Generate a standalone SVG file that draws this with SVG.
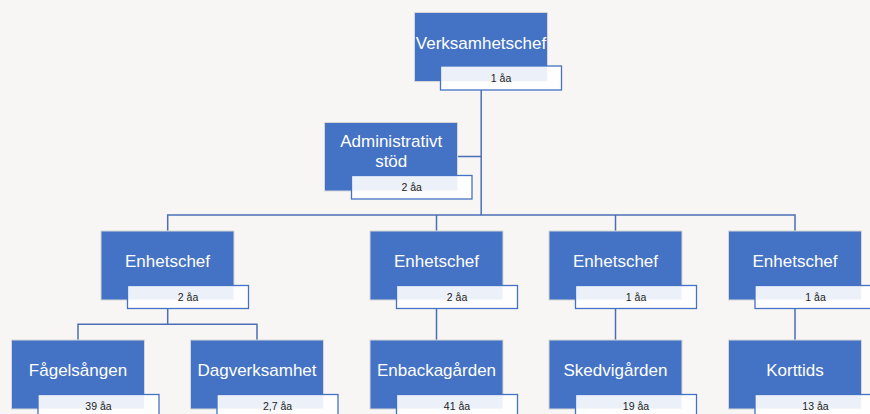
<svg xmlns="http://www.w3.org/2000/svg" width="870" height="414" viewBox="0 0 870 414">
<style>
.box{fill:#4472C4;stroke:#D6D6D6;stroke-width:1}
.lbl{fill:#FFFFFF;fill-opacity:0.9;stroke:#4472C4;stroke-width:1.3}
.t{font-family:"Liberation Sans",Arial,sans-serif;font-size:17px;fill:#FFFFFF;text-anchor:middle}
.s{font-family:"Liberation Sans",Arial,sans-serif;font-size:10.5px;fill:#222222;text-anchor:middle}
.c{fill:none;stroke:#4A6FB5;stroke-width:1.5}
</style>
<rect width="870" height="414" fill="#F7F6F4"/>
<g id="connectors">
<path class="c" d="M481.2 90 V215"/>
<path class="c" d="M458 156.5 H481.2"/>
<path class="c" d="M167.7 231 V215 H795 V231"/>
<path class="c" d="M436.5 215 V231"/>
<path class="c" d="M615.5 215 V231"/>
<path class="c" d="M167.7 308 V324.3"/>
<path class="c" d="M78 340 V324.3 H257 V340"/>
<path class="c" d="M436.5 308 V340"/>
<path class="c" d="M615.5 308 V340"/>
<path class="c" d="M795 308 V340"/>
</g>
<g id="verksamhetschef">
<rect class="box" x="414.5" y="12.5" width="133" height="69"/>
<text class="t" x="481" y="48.5">Verksamhetschef</text>
<rect class="lbl" x="440.5" y="66" width="121" height="24"/>
<text class="s" x="501" y="81.5">1 åa</text>
</g>
<g id="administrativt-stod">
<rect class="box" x="324.5" y="122.5" width="133" height="68.5"/>
<text class="t" x="391.2" y="147.3">Administrativt</text>
<text class="t" x="391.2" y="166.7">stöd</text>
<rect class="lbl" x="351.5" y="175.5" width="120.5" height="23.5"/>
<text class="s" x="411.7" y="191">2 åa</text>
</g>
<g id="enhetschef-1">
<rect class="box" x="101" y="231" width="133" height="69"/>
<text class="t" x="167.5" y="267">Enhetschef</text>
<rect class="lbl" x="127.5" y="285.5" width="121" height="23"/>
<text class="s" x="188" y="300.5">2 åa</text>
</g>
<g id="enhetschef-2">
<rect class="box" x="370" y="231" width="133" height="69"/>
<text class="t" x="436.5" y="267">Enhetschef</text>
<rect class="lbl" x="396.5" y="285.5" width="121" height="23"/>
<text class="s" x="457" y="300.5">2 åa</text>
</g>
<g id="enhetschef-3">
<rect class="box" x="549" y="231" width="133" height="69"/>
<text class="t" x="615.5" y="267">Enhetschef</text>
<rect class="lbl" x="575.5" y="285.5" width="121" height="23"/>
<text class="s" x="636" y="300.5">1 åa</text>
</g>
<g id="enhetschef-4">
<rect class="box" x="728.5" y="231" width="133" height="69"/>
<text class="t" x="795" y="267">Enhetschef</text>
<rect class="lbl" x="755" y="285.5" width="121" height="23"/>
<text class="s" x="815.5" y="300.5">1 åa</text>
</g>
<g id="fagelsangen">
<rect class="box" x="11.5" y="340" width="133" height="69"/>
<text class="t" x="78" y="376">Fågelsången</text>
<rect class="lbl" x="38" y="394.5" width="121" height="23"/>
<text class="s" x="98.5" y="409.5">39 åa</text>
</g>
<g id="dagverksamhet">
<rect class="box" x="190.5" y="340" width="133" height="69"/>
<text class="t" x="257" y="376">Dagverksamhet</text>
<rect class="lbl" x="217" y="394.5" width="121" height="23"/>
<text class="s" x="277.5" y="409.5">2,7 åa</text>
</g>
<g id="enbackagarden">
<rect class="box" x="370" y="340" width="133" height="69"/>
<text class="t" x="436.5" y="376">Enbackagården</text>
<rect class="lbl" x="396.5" y="394.5" width="121" height="23"/>
<text class="s" x="457" y="409.5">41 åa</text>
</g>
<g id="skedvigarden">
<rect class="box" x="549" y="340" width="133" height="69"/>
<text class="t" x="615.5" y="376">Skedvigården</text>
<rect class="lbl" x="575.5" y="394.5" width="121" height="23"/>
<text class="s" x="636" y="409.5">19 åa</text>
</g>
<g id="korttids">
<rect class="box" x="728.5" y="340" width="133" height="69"/>
<text class="t" x="795" y="376">Korttids</text>
<rect class="lbl" x="755" y="394.5" width="121" height="23"/>
<text class="s" x="815.5" y="409.5">13 åa</text>
</g>
</svg>
